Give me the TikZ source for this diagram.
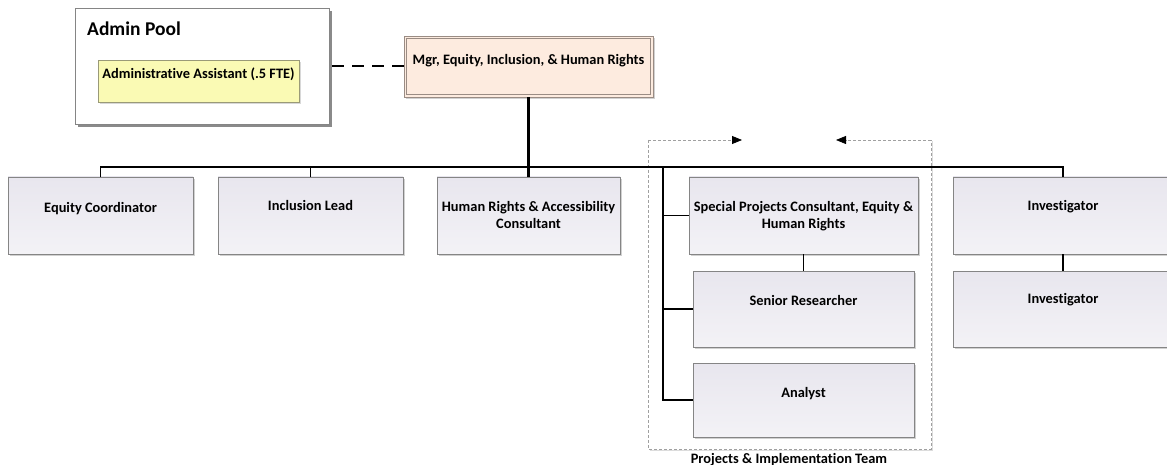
\documentclass[tikz,border=0pt]{standalone}
\usepackage{fontspec}
\setmainfont{Carlito}[Ligatures=NoCommon]
\usetikzlibrary{arrows.meta,shadows,calc}
\definecolor{boxtop}{HTML}{E8E6EE}
\definecolor{boxbot}{HTML}{F3F2F6}
\definecolor{boxline}{HTML}{858585}
\definecolor{mgrfill}{HTML}{FDEBDF}
\definecolor{mgrline}{HTML}{9A8C84}
\definecolor{asstfill}{HTML}{FAFAB4}
\definecolor{asstline}{HTML}{9A9A78}
\definecolor{teamline}{HTML}{A0A0A0}
\definecolor{teamshadow}{HTML}{DCDCDC}
\begin{document}
\begin{tikzpicture}[x=1pt,y=-1pt,
  orgbox/.style={rectangle, draw=boxline, line width=0.8pt, top color=boxtop, bottom color=boxbot,
    inner sep=0pt, drop shadow={shadow xshift=2pt, shadow yshift=-2pt, opacity=0.3, fill=black!60}},
  txt/.style={font=\bfseries\fontsize{14.4}{17}\selectfont, align=center, inner sep=0pt, text=black},
  conn/.style={line width=1.8pt, black},
  trunk/.style={line width=3pt, black},
  dashconn/.style={line width=2pt, black, dash pattern=on 12pt off 8pt},
  teamedge/.style={draw=teamline, line width=0.8pt, dash pattern=on 3pt off 2pt},
  teamarrow/.style={teamedge, -{Triangle[length=10pt,width=8pt,color=black,fill=black]}}
]
\useasboundingbox (0,0) rectangle (1167,465);
\clip (0,0) rectangle (1167,465);

% Admin pool
\node[rectangle, draw=boxline, line width=0.8pt, fill=white, inner sep=0pt,
      minimum width=254pt, minimum height=116pt,
      drop shadow={shadow xshift=3pt, shadow yshift=-3pt, opacity=0.65, fill=black!70}]
      (admin) at (202,66) {};
\node[font=\bfseries\fontsize{19.5}{22}\selectfont, inner sep=0pt, anchor=west] (adminlbl) at (87,29) {Admin Pool};
\node[rectangle, draw=asstline, line width=0.8pt, fill=asstfill, inner sep=0pt,
      minimum width=201pt, minimum height=42pt,
      drop shadow={shadow xshift=2pt, shadow yshift=-2pt, opacity=0.25, fill=black!60}]
      (asst) at (198.5,81) {};
\node[txt, anchor=north] (assttxt) at ([yshift=-8pt]asst.north) {Administrative Assistant (.5 FTE)};

% Manager
\node[rectangle, draw=mgrline, line width=0.9pt, fill=mgrfill, inner sep=0pt,
      minimum width=249pt, minimum height=61pt,
      drop shadow={shadow xshift=2pt, shadow yshift=-2pt, opacity=0.3, fill=black!60}]
      (mgr) at (528.5,66.5) {};
\draw[mgrline, line width=0.7pt] ($(mgr.north west)+(3,3)$) rectangle ($(mgr.south east)+(-3,-3)$);
\node[txt, anchor=north] (mgrtxt) at ([yshift=-18.4pt]mgr.north) {Mgr, Equity, Inclusion, \& Human Rights};

% Boxes
\node[orgbox, minimum width=185pt, minimum height=77pt] (eq)  at (100.5,215.5) {};
\node[orgbox, minimum width=185pt, minimum height=77pt] (inc) at (310.5,215.5) {};
\node[orgbox, minimum width=183pt, minimum height=77pt] (hr)  at (528.5,215.5) {};
\node[orgbox, minimum width=229pt, minimum height=77pt] (sp)  at (803.5,215.5) {};
\node[orgbox, minimum width=221pt, minimum height=76pt] (sr)  at (803.5,309) {};
\node[orgbox, minimum width=221pt, minimum height=74pt] (an)  at (803.5,400) {};
\node[orgbox, minimum width=220pt, minimum height=77pt] (inv1) at (1063,215.5) {};
\node[orgbox, minimum width=220pt, minimum height=76pt] (inv2) at (1063,309) {};

\node[txt, anchor=north] (eqtxt)  at ([yshift=-25.6pt]eq.north)  {Equity Coordinator};
\node[txt, anchor=north] (inctxt) at ([yshift=-24pt]inc.north) {Inclusion Lead};
\node[txt, anchor=north] (hrtxt)  at ([yshift=-24.5pt]hr.north)  {Human Rights \& Accessibility\\Consultant};
\node[txt, anchor=north] (sptxt)  at ([yshift=-24.5pt]sp.north)  {Special Projects Consultant, Equity \&\\Human Rights};
\node[txt, anchor=north] (srtxt)  at ([yshift=-24.5pt]sr.north)  {Senior Researcher};
\node[txt, anchor=north] (antxt)  at ([yshift=-24.5pt]an.north)  {Analyst};
\node[txt, anchor=north] (inv1txt) at ([yshift=-23.5pt]inv1.north) {Investigator};
\node[txt, anchor=north] (inv2txt) at ([yshift=-23pt]inv2.north) {Investigator};

% Team box
\coordinate (tnw) at (648,140);
\coordinate (tne) at (931,140);
\coordinate (tsw) at (648,449);
\coordinate (tse) at (931,449);
\coordinate (ta1) at (742,140);
\coordinate (ta2) at (836,140);
\draw[teamshadow, line width=0.8pt] ($(tne)+(1.5,1.5)$) -- ($(tse)+(1.5,1.5)$) -- ($(tsw)+(1.5,1.5)$);
\draw[teamedge] (ta1 -| tnw) -- (tsw) -- (tse) -- (tne);
\draw[teamarrow] (tnw) -- (ta1);
\draw[teamarrow] (tne) -- (ta2);
\node[txt, anchor=base] (teamlbl) at (789,463) {Projects \& Implementation Team};

% Connectors
\coordinate (busy) at (0,167);
\coordinate (tt) at (663,167);
\draw[dashconn] (mgr.west) -- (mgr.west -| admin.east);
\draw[conn] (eq.north) -- (eq.north |- busy) -- (inv1.north |- busy) -- (inv1.north);
\draw[conn] (inc.north) -- (inc.north |- busy);
\draw[trunk] (mgr.south) -- (hr.north);
\draw[conn] (tt) -- (tt |- an.west) -- (an.west);
\draw[conn] (tt |- sp.west) -- (sp.west);
\draw[conn] (tt |- sr.west) -- (sr.west);
\draw[conn] (sp.south) -- (sr.north);
\draw[conn] (inv1.south) -- (inv2.north);
\end{tikzpicture}
\end{document}
